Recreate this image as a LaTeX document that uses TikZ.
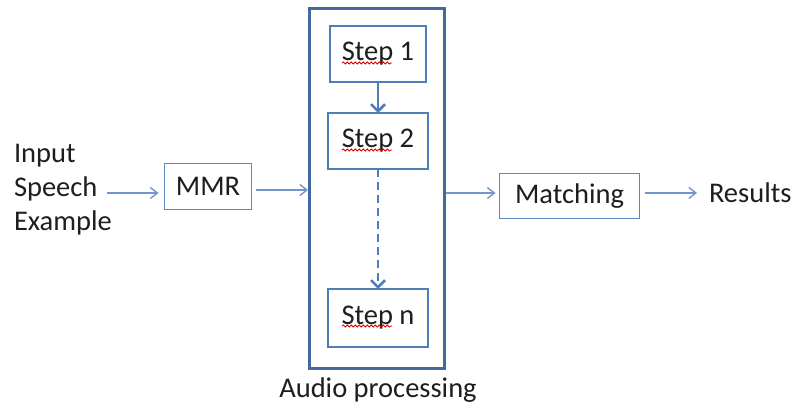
\documentclass[tikz,border=0pt]{standalone}
\usepackage{fontspec}
\setmainfont{Carlito}
\usetikzlibrary{arrows.meta,decorations.pathmorphing}
\definecolor{frameblue}{HTML}{44699E}
\definecolor{stepblue}{HTML}{4F7DB8}
\definecolor{boxblue}{HTML}{5D88C2}
\definecolor{arrowblue}{HTML}{7096CB}
\definecolor{inkgray}{HTML}{1E1E1E}
\begin{document}
\begin{tikzpicture}[x=1pt,y=-1pt,
  every node/.style={font=\fontsize{28.5}{34}\selectfont, text=inkgray, inner sep=0pt, outer sep=0pt},
  stepbox/.style={draw=stepblue, line width=2.5pt, minimum width=100pt, minimum height=56pt},
  plainbox/.style={draw=boxblue, line width=1.2pt},
  flow/.style={draw=arrowblue, line width=1.4pt, -{Straight Barb[length=7pt,width=11pt]}},
  steparrow/.style={draw=stepblue, line width=2.5pt, -{Straight Barb[length=7pt,width=14pt]}},
  squiggle/.style={draw=red!85!black, line width=0.8pt, decorate,
    decoration={snake, amplitude=1.1pt, segment length=4pt}}]
\useasboundingbox (0,0) rectangle (795,412);
\fill[white] (0,0) rectangle (795,412);

% audio processing frame and its steps
\node[draw=frameblue, line width=3pt, minimum width=135pt, minimum height=360pt] (proc) at (377,188.5) {};
\node[anchor=base] (proclabel) at (378,397) {Audio processing};

\node[stepbox, minimum width=96pt] (s1) at (378,54) {Step 1};
\node[stepbox] (s2) at (378,141) {Step 2};
\node[stepbox, minimum height=58pt] (sn) at (378,318) {Step n};

\draw[steparrow] (s1.south) -- (s2.north);
\draw[steparrow, dash pattern=on 8pt off 5pt] (s2.south) -- (sn.north);

% spelling marks under the word "Step"
\draw[squiggle] ([xshift=-36pt,yshift=-9pt]s1.center) -- ([xshift=14pt,yshift=-9pt]s1.center);
\draw[squiggle] ([xshift=-36pt,yshift=-9pt]s2.center) -- ([xshift=14pt,yshift=-9pt]s2.center);
\draw[squiggle] ([xshift=-36pt,yshift=-8pt]sn.center) -- ([xshift=14pt,yshift=-8pt]sn.center);

% input, MMR, matching, results
\node[anchor=west, align=left] (inp) at (14,190) {Input\\Speech\\Example};
\node[plainbox, minimum width=87pt, minimum height=46pt] (mmr) at (208,186.5) {MMR};
\node[plainbox, minimum width=140pt, minimum height=45pt] (match) at (569.5,196) {Matching};
\node[anchor=west] (res) at (709,193) {Results};

\draw[flow] ([xshift=-5pt,yshift=-3pt]inp.east) -- ([xshift=-6pt,yshift=-6.5pt]mmr.west);
\draw[flow] ([xshift=4pt,yshift=-3.5pt]mmr.east) -- ([xshift=-1.5pt,yshift=-1.5pt]proc.west);
\draw[flow] ([xshift=1.5pt,yshift=-4.5pt]proc.east) -- ([xshift=-4pt,yshift=3pt]match.west);
\draw[flow] ([xshift=5pt,yshift=3pt]match.east) -- ([xshift=-12pt]res.west);
\end{tikzpicture}
\end{document}
